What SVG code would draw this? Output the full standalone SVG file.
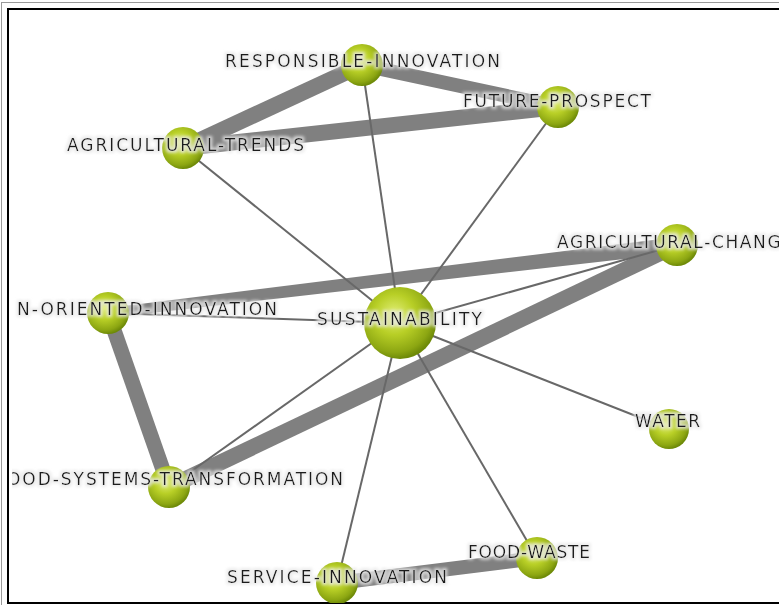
<svg xmlns="http://www.w3.org/2000/svg" width="779" height="605" viewBox="0 0 779 605">
<defs>
<radialGradient id="ball" cx="0.42" cy="0.38" r="0.62">
<stop offset="0" stop-color="#e2ef78"/>
<stop offset="0.45" stop-color="#b8cf26"/>
<stop offset="0.85" stop-color="#8ca612"/>
<stop offset="1" stop-color="#6e8a08"/>
</radialGradient>
<clipPath id="frame"><rect x="12" y="10" width="780" height="593"/></clipPath>
<filter id="halo" x="-5%" y="-40%" width="110%" height="180%">
<feMorphology in="SourceAlpha" operator="dilate" radius="1.5" result="d"/>
<feGaussianBlur in="d" stdDeviation="1.5" result="b"/>
<feFlood flood-color="#e8e8e8" flood-opacity="0.8"/>
<feComposite in2="b" operator="in" result="h"/>
<feMerge><feMergeNode in="h"/><feMergeNode in="SourceGraphic"/></feMerge>
</filter>
<style>
.thick{stroke:#808080;stroke-linecap:butt;fill:none}
.thin{stroke:#686868;stroke-width:2;fill:none}
.node{fill:url(#ball)}
.lbl{font-family:"DejaVu Sans","Liberation Sans",sans-serif;font-size:17px;fill:#1a1a1a}
</style>
</defs>
<rect x="0" y="0" width="779" height="605" fill="#ffffff"/>
<rect x="1.5" y="2.5" width="790" height="610" fill="none" stroke="#9a9a9a" stroke-width="1"/>
<rect x="8" y="9" width="790" height="594" fill="none" stroke="#000000" stroke-width="2"/>
<g clip-path="url(#frame)">
<g id="connectors">
<line class="thick" x1="183" y1="148" x2="362" y2="65" stroke-width="16"/>
<line class="thick" x1="362" y1="65" x2="558" y2="107" stroke-width="14"/>
<line class="thick" x1="183" y1="148" x2="558" y2="107" stroke-width="16"/>
<polygon points="108,308 108,318 677,253 677,237" fill="#808080"/>
<line class="thick" x1="169" y1="487" x2="677" y2="245" stroke-width="16"/>
<line class="thick" x1="108" y1="313" x2="169" y2="487" stroke-width="15"/>
<line class="thick" x1="337" y1="583" x2="537" y2="558" stroke-width="14"/>
<line class="thin" x1="400" y1="323" x2="362" y2="65"/>
<line class="thin" x1="400" y1="323" x2="183" y2="148"/>
<line class="thin" x1="400" y1="323" x2="558" y2="107"/>
<line class="thin" x1="400" y1="323" x2="677" y2="245"/>
<line class="thin" x1="400" y1="323" x2="108" y2="313"/>
<line class="thin" x1="400" y1="323" x2="169" y2="487"/>
<line class="thin" x1="400" y1="323" x2="669" y2="429"/>
<line class="thin" x1="400" y1="323" x2="337" y2="583"/>
<line class="thin" x1="400" y1="323" x2="537" y2="558"/>
</g>
<g id="n-responsible-innovation">
<circle class="node" cx="362" cy="65" r="21"/>
<text class="lbl" filter="url(#halo)" x="225" y="67" textLength="275" lengthAdjust="spacing">RESPONSIBLE-INNOVATION</text>
</g>
<g id="n-future-prospect">
<circle class="node" cx="558" cy="107" r="21"/>
<text class="lbl" filter="url(#halo)" x="463" y="107" textLength="188" lengthAdjust="spacing">FUTURE-PROSPECT</text>
</g>
<g id="n-agricultural-trends">
<circle class="node" cx="183" cy="148" r="21"/>
<text class="lbl" filter="url(#halo)" x="67" y="151" textLength="237" lengthAdjust="spacing">AGRICULTURAL-TRENDS</text>
</g>
<g id="n-agricultural-change">
<circle class="node" cx="677" cy="245" r="21"/>
<text class="lbl" filter="url(#halo)" x="557" y="248" textLength="236" lengthAdjust="spacing">AGRICULTURAL-CHANGE</text>
</g>
<g id="n-oriented-innovation">
<circle class="node" cx="108" cy="313" r="21"/>
<text class="lbl" filter="url(#halo)" x="17" y="315" textLength="260" lengthAdjust="spacing">N-ORIENTED-INNOVATION</text>
</g>
<g id="n-sustainability">
<circle class="node" cx="400" cy="323" r="36"/>
<text class="lbl" filter="url(#halo)" x="317" y="325" textLength="165" lengthAdjust="spacing">SUSTAINABILITY</text>
</g>
<g id="n-water">
<circle class="node" cx="669" cy="429" r="20"/>
<text class="lbl" filter="url(#halo)" x="635" y="427" textLength="65" lengthAdjust="spacing">WATER</text>
</g>
<g id="n-food-systems-transformation">
<circle class="node" cx="169" cy="487" r="21"/>
<text class="lbl" filter="url(#halo)" x="7" y="485" textLength="336" lengthAdjust="spacing">OOD-SYSTEMS-TRANSFORMATION</text>
</g>
<g id="n-food-waste">
<circle class="node" cx="537" cy="558" r="21"/>
<text class="lbl" filter="url(#halo)" x="468" y="558" textLength="122" lengthAdjust="spacing">FOOD-WASTE</text>
</g>
<g id="n-service-innovation">
<circle class="node" cx="337" cy="583" r="21"/>
<text class="lbl" filter="url(#halo)" x="227" y="583" textLength="220" lengthAdjust="spacing">SERVICE-INNOVATION</text>
</g>
</g>
</svg>
